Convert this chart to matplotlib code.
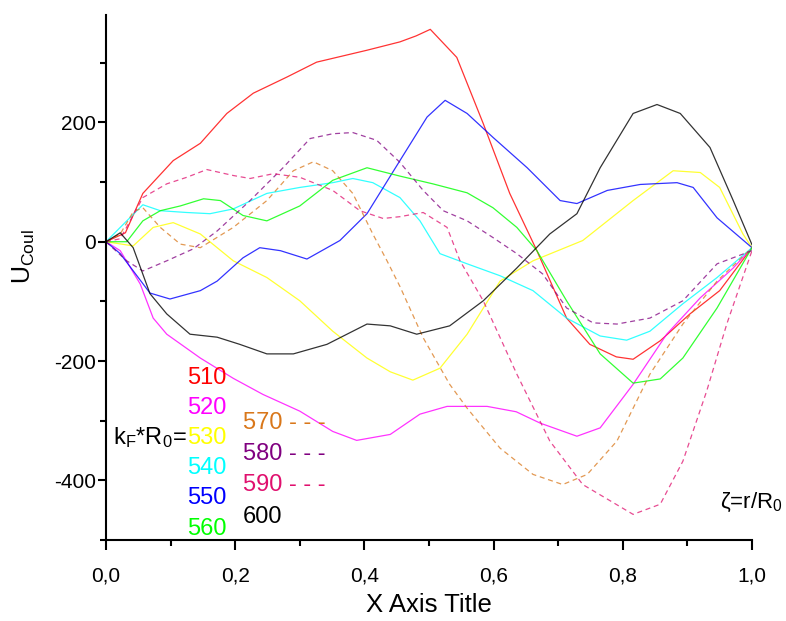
import matplotlib
matplotlib.use("Agg")
import matplotlib.pyplot as plt
from matplotlib.ticker import MultipleLocator, FuncFormatter

plt.rcParams["font.family"] = ["Liberation Sans", "DejaVu Sans"]
plt.rcParams["mathtext.default"] = "regular"

# values
x510 = [0, 0.03, 0.057, 0.104, 0.146, 0.187, 0.228, 0.28, 0.326, 0.404, 0.455, 0.48, 0.502,
        0.543, 0.584, 0.625, 0.667, 0.713, 0.749, 0.79, 0.816, 0.858, 0.904, 0.95, 1.0]
y510 = [0, 15, 81, 136, 165, 215, 249, 276, 301, 321, 335, 345, 356,
        309, 198, 81, -15, -128, -172, -193, -197, -166, -121, -82, -10]

x520 = [0, 0.022, 0.053, 0.073, 0.094, 0.146, 0.197, 0.243, 0.300, 0.351, 0.388, 0.44,
        0.486, 0.528, 0.59, 0.635, 0.672, 0.729, 0.765, 0.816, 0.868, 0.92, 0.971, 1.0]
y520 = [0, -15, -71, -128, -155, -195, -229, -256, -284, -318, -333, -323,
        -289, -276, -276, -285, -304, -326, -312, -239, -155, -94, -44, -10]

x530 = [0, 0.042, 0.073, 0.104, 0.146, 0.197, 0.249, 0.300, 0.351, 0.404, 0.44, 0.475,
        0.517, 0.559, 0.61, 0.661, 0.738, 0.816, 0.878, 0.92, 0.95, 0.986, 1.0]
y530 = [0, -7, 24, 32, 13, -32, -60, -99, -150, -195, -218, -232,
        -212, -155, -66, -32, 2, 69, 119, 116, 91, 13, -10]

x540 = [0, 0.022, 0.057, 0.084, 0.125, 0.161, 0.197, 0.249, 0.300, 0.351, 0.382, 0.413,
        0.455, 0.486, 0.517, 0.559, 0.61, 0.661, 0.713, 0.765, 0.806, 0.842, 0.893, 0.946, 1.0]
y540 = [0, 24, 62, 52, 49, 47, 55, 81, 91, 99, 106, 99,
        74, 35, -20, -37, -57, -82, -128, -158, -165, -150, -104, -60, -10]

x550 = [0, 0.022, 0.068, 0.099, 0.146, 0.172, 0.212, 0.238, 0.27, 0.311, 0.362, 0.404, 0.455,
        0.497, 0.525, 0.559, 0.599, 0.652, 0.703, 0.729, 0.776, 0.827, 0.884, 0.909, 0.946, 1.0]
y550 = [0, -20, -86, -96, -82, -66, -27, -10, -15, -29, 2, 47, 136,
        209, 237, 215, 175, 124, 69, 64, 86, 96, 99, 91, 40, -10]

x560 = [0, 0.032, 0.057, 0.084, 0.115, 0.151, 0.177, 0.212, 0.249, 0.300, 0.351, 0.404, 0.455,
        0.506, 0.559, 0.599, 0.636, 0.667, 0.713, 0.765, 0.816, 0.858, 0.893, 0.946, 1.0]
y560 = [0, 0, 35, 52, 60, 72, 69, 44, 35, 60, 103, 124, 110,
        97, 82, 57, 24, -15, -99, -188, -237, -230, -195, -111, -10]

x570 = [0, 0.022, 0.042, 0.057, 0.084, 0.115, 0.146, 0.197, 0.249, 0.290, 0.321, 0.351, 0.382,
        0.413, 0.435, 0.455, 0.491, 0.532, 0.559, 0.610, 0.661, 0.707, 0.745, 0.791, 0.842,
        0.893, 0.946, 1.0]
y570 = [0, 13, 50, 57, 24, -4, -10, 24, 69, 119, 134, 119, 81,
        13, -32, -75, -161, -239, -279, -346, -390, -407, -390, -334, -222,
        -138, -66, -10]

x580 = [0, 0.032, 0.057, 0.094, 0.135, 0.172, 0.223, 0.274, 0.316, 0.351, 0.382, 0.419, 0.455,
        0.491, 0.522, 0.559, 0.599, 0.636, 0.676, 0.713, 0.754, 0.791, 0.842, 0.893, 0.946, 1.0]
y580 = [0, -32, -49, -32, -12, 18, 69, 124, 173, 181, 183, 170, 133,
        86, 52, 35, 7, -20, -54, -111, -136, -138, -128, -99, -37, -15]

x590 = [0, 0.022, 0.057, 0.094, 0.125, 0.156, 0.197, 0.223, 0.259, 0.300, 0.351, 0.393, 0.429,
        0.455, 0.491, 0.528, 0.548, 0.584, 0.636, 0.687, 0.738, 0.816, 0.858, 0.893, 0.930,
        0.961, 1.0]
y590 = [0, 5, 74, 97, 108, 121, 111, 106, 114, 108, 86, 52, 39,
        42, 49, 24, -32, -99, -222, -334, -407, -457, -440, -368, -250,
        -138, -15]

x600 = [0, 0.022, 0.042, 0.068, 0.094, 0.130, 0.172, 0.207, 0.249, 0.290, 0.342, 0.404, 0.440,
        0.481, 0.532, 0.584, 0.636, 0.687, 0.729, 0.765, 0.816, 0.853, 0.889, 0.935, 0.971, 1.0]
y600 = [0, 15, -10, -87, -121, -155, -160, -172, -188, -188, -172, -138, -141,
        -155, -141, -99, -44, 13, 47, 124, 215, 230, 215, 158, 69, -5]

solid_labels = ["510", "520", "530", "540", "550", "560"]
dashed_labels = ["570", "580", "590"]

series = {
    "510": (x510, y510, "#ff0000"),
    "520": (x520, y520, "#ff00ff"),
    "530": (x530, y530, "#ffff00"),
    "540": (x540, y540, "#00ffff"),
    "550": (x550, y550, "#0000ff"),
    "560": (x560, y560, "#00ff00"),
    "570": (x570, y570, "#d9771a"),
    "580": (x580, y580, "#800080"),
    "590": (x590, y590, "#e0106e"),
    "600": (x600, y600, "#000000"),
}

fig = plt.figure(figsize=(7.86, 6.21), dpi=100)
ax = fig.add_axes([0.1349, 0.1304, 0.8218, 0.8454])

for key, (xs, ys, col) in series.items():
    if key in dashed_labels:
        ax.plot(xs, ys, color=col, lw=0.9, ls=(0, (4, 3)), alpha=0.75)
    else:
        ax.plot(xs, ys, color=col, lw=0.9, alpha=0.8)

ax.set_xlim(0, 1.0)
ax.set_ylim(-500, 380)

for s in ["top", "right"]:
    ax.spines[s].set_visible(False)
for s in ["left", "bottom"]:
    ax.spines[s].set_linewidth(1.5)

ax.xaxis.set_major_locator(MultipleLocator(0.2))
ax.xaxis.set_minor_locator(MultipleLocator(0.1))
ax.yaxis.set_major_locator(MultipleLocator(200))
ax.yaxis.set_minor_locator(MultipleLocator(100))
ax.xaxis.set_major_formatter(FuncFormatter(lambda v, p: f"{v:.1f}".replace(".", ",")))
ax.yaxis.set_major_formatter(FuncFormatter(lambda v, p: f"{v:.0f}"))
ax.tick_params(which="major", direction="out", length=7, width=1.5, labelsize=15)
ax.tick_params(which="minor", direction="out", length=4, width=1.5)
ax.tick_params(axis="x", which="major", pad=12)
ax.tick_params(axis="y", which="major", length=5.5, pad=1.5)
ax.tick_params(axis="y", which="minor", length=4)

ax.set_xlabel("X Axis Title", fontsize=18.5)
ax.xaxis.set_label_coords(0.5, -0.1)
ax.set_ylabel("U$_{Coul}$", fontsize=18)
ax.yaxis.set_label_coords(-0.107, 0.54)

# in-plot legend made of text
leg_y_solid = [-229, -279, -329, -380, -430, -482]
for lab, yy in zip(solid_labels, leg_y_solid):
    ax.text(0.125, yy, lab, color=series[lab][2], fontsize=17, va="center", ha="left")
leg_y_right = [-304, -355, -407]
for lab, yy in zip(dashed_labels, leg_y_right):
    ax.text(0.212, yy, lab + " - - -", color=series[lab][2], fontsize=17, va="center", ha="left")
ax.text(0.212, -461, "600", color="black", fontsize=17, va="center", ha="left")
ax.text(0.011, -329, "k$_F$*R$_0$=", color="black", fontsize=17, va="center", ha="left")
ax.text(1.048, -437, "ζ=r/R$_0$", color="black", fontsize=16, va="center", ha="right")

fig.savefig("out.png", dpi=100)
